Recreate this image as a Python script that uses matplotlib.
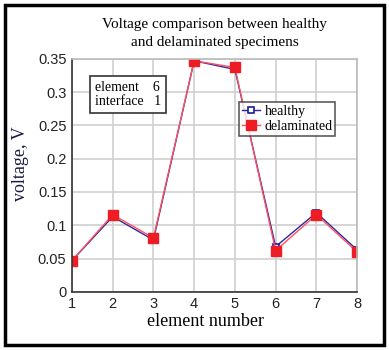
import matplotlib
matplotlib.use("Agg")
import matplotlib.pyplot as plt
from matplotlib.patches import Rectangle

elements = [1, 2, 3, 4, 5, 6, 7, 8]
healthy = [0.047, 0.113, 0.078, 0.347, 0.334, 0.068, 0.119, 0.063]
delaminated = [0.047, 0.116, 0.081, 0.347, 0.337, 0.062, 0.116, 0.060]
yticks = [0, 0.05, 0.1, 0.15, 0.2, 0.25, 0.3, 0.35]
ytick_labels = ["0", "0.05", "0.1", "0.15", "0.2", "0.25", "0.3", "0.35"]

serif = "Liberation Serif"
sans = "Liberation Sans"

fig = plt.figure(figsize=(3.89, 3.5), dpi=100)
fig.patch.set_facecolor("white")
fig.add_artist(Rectangle((0.013, 0.013), 0.974, 0.974, transform=fig.transFigure,
                         fill=False, edgecolor="black", linewidth=2.5))

ax = fig.add_axes([0.185, 0.166, 0.733, 0.666])
ax.plot(elements, healthy, color="#2a2aa0", linewidth=1.0, marker="s", markersize=5,
        markerfacecolor="white", markeredgecolor="#1a1a9a", markeredgewidth=1.2, label="healthy")
ax.plot(elements, delaminated, color="#ff5060", linewidth=1.0, marker="s", markersize=7,
        markerfacecolor="#ee1c25", markeredgecolor="#ee1c25", label="delaminated")

ax.set_xlim(1, 8)
ax.set_ylim(0, 0.35)
ax.set_xticks(elements)
ax.set_yticks(yticks)
ax.set_yticklabels(ytick_labels)
for lab in ax.get_xticklabels() + ax.get_yticklabels():
    lab.set_fontfamily(sans)
    lab.set_fontsize(10.5)
    lab.set_color("#222222")
ax.tick_params(length=0, pad=4)
ax.grid(True, color="#d0d0d0", linewidth=1.2)
ax.set_axisbelow(True)
for s in ["top", "right"]:
    ax.spines[s].set_color("#bbbbbb")
    ax.spines[s].set_linewidth(1.2)
for s in ["left", "bottom"]:
    ax.spines[s].set_color("#333333")
    ax.spines[s].set_linewidth(1.2)

ax.set_xlabel("element number", fontfamily=serif, fontsize=13)
ax.xaxis.set_label_coords(0.47, -0.125, transform=ax.transAxes)
ax.xaxis.label.set_va("center")
ax.set_ylabel("voltage, V", fontfamily=serif, fontsize=13, color="#1a1a40")
ax.yaxis.set_label_coords(-0.179, 0.55, transform=ax.transAxes)
ax.yaxis.label.set_va("center")
ax.set_title("Voltage comparison between healthy\nand delaminated specimens",
             fontfamily=serif, fontsize=11, pad=9, linespacing=1.55)

ax.text(0.081, 0.905, "element    6\ninterface   1", transform=ax.transAxes,
        fontfamily=serif, fontsize=10, va="top", ha="left", linespacing=1.15,
        bbox=dict(boxstyle="square,pad=0.35", facecolor="white", edgecolor="#333333", linewidth=1.2))

leg = ax.legend(loc="upper left", bbox_to_anchor=(0.587, 0.815), prop={"family": serif, "size": 10},
                frameon=True, fancybox=False, edgecolor="#333333", borderpad=0.2,
                handlelength=1.3, handletextpad=0.3, labelspacing=0.15, borderaxespad=0)
leg.get_frame().set_linewidth(1.2)

fig.savefig("out.png", dpi=100, facecolor="white")
